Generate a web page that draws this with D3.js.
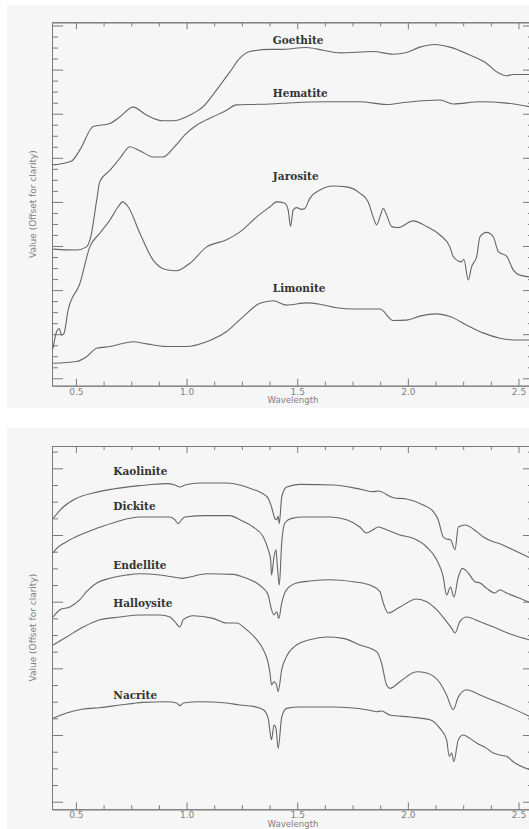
<!DOCTYPE html>
<html>
<head>
<meta charset="utf-8">
<script src="https://cdn.jsdelivr.net/npm/d3@7"></script>
<style>
  html, body { margin: 0; padding: 0; background: #ffffff; }
  svg { display: block; }
</style>
</head>
<body>
<svg id="chart" width="529" height="829"></svg>
<script>
// ---- axis settings ----
const wavelengthDomain = [0.392, 2.570];
const wavelengthTicks = [0.5, 1.0, 1.5, 2.0, 2.5];
const wavelengthMinorStep = 0.125;
const ironDomain = [-0.0168, 0.8073];
const clayDomain = [-0.0114, 0.5335];
const valueMajorStep = 0.1;
const valueMinorStep = 0.025;
const xTitle = "Wavelength";
const yTitle = "Value (Offset for clarity)";

// ---- iron oxide / sulfate spectra: [wavelength (µm), offset value] ----
const goethite = [
  [0.397,0.484],[0.481,0.493],[0.518,0.518],[0.578,0.571],[0.654,0.578],[0.699,0.593],
  [0.759,0.615],[0.819,0.597],[0.894,0.584],[0.940,0.584],[1.015,0.597],[1.075,0.616],
  [1.136,0.654],[1.196,0.695],[1.241,0.726],[1.286,0.741],[1.377,0.746],[1.422,0.746],
  [1.542,0.750],[1.617,0.744],[1.693,0.738],[1.843,0.741],[1.934,0.735],[1.994,0.739],
  [2.054,0.751],[2.122,0.757],[2.190,0.751],[2.280,0.733],[2.356,0.714],[2.401,0.695],
  [2.446,0.686],[2.476,0.689],[2.570,0.689]
];
const hematite = [
  [0.397,0.293],[0.503,0.291],[0.548,0.298],[0.568,0.323],[0.594,0.404],[0.608,0.446],
  [0.654,0.472],[0.699,0.499],[0.744,0.525],[0.789,0.516],[0.849,0.502],[0.894,0.502],
  [0.940,0.522],[1.000,0.556],[1.045,0.574],[1.120,0.593],[1.181,0.608],[1.226,0.620],
  [1.301,0.621],[1.377,0.622],[1.482,0.625],[1.633,0.627],[1.783,0.627],[1.904,0.621],
  [1.994,0.626],[2.145,0.631],[2.205,0.622],[2.326,0.627],[2.446,0.624],[2.570,0.614]
];
const jarosite = [
  [0.397,0.068],[0.413,0.106],[0.425,0.113],[0.435,0.098],[0.446,0.102],[0.465,0.155],
  [0.518,0.215],[0.563,0.298],[0.608,0.329],[0.654,0.359],[0.691,0.389],[0.711,0.400],
  [0.736,0.389],[0.789,0.329],[0.849,0.268],[0.910,0.246],[0.955,0.244],[1.015,0.261],
  [1.091,0.298],[1.181,0.314],[1.241,0.332],[1.317,0.366],[1.377,0.389],[1.407,0.400],
  [1.444,0.397],[1.459,0.382],[1.470,0.345],[1.482,0.382],[1.497,0.387],[1.519,0.383],
  [1.534,0.385],[1.557,0.408],[1.603,0.427],[1.663,0.436],[1.723,0.434],[1.783,0.420],
  [1.821,0.400],[1.843,0.366],[1.859,0.348],[1.874,0.366],[1.889,0.385],[1.904,0.370],
  [1.927,0.344],[1.956,0.342],[2.024,0.357],[2.085,0.344],[2.145,0.325],[2.190,0.298],
  [2.205,0.276],[2.228,0.266],[2.243,0.264],[2.253,0.270],[2.273,0.223],[2.288,0.253],
  [2.311,0.276],[2.326,0.321],[2.356,0.331],[2.386,0.321],[2.409,0.287],[2.446,0.277],
  [2.476,0.246],[2.506,0.234],[2.570,0.229]
];
const limonite = [
  [0.397,0.034],[0.503,0.038],[0.548,0.049],[0.594,0.068],[0.654,0.072],[0.759,0.083],
  [0.819,0.078],[0.910,0.072],[1.000,0.072],[1.091,0.083],[1.181,0.106],[1.256,0.140],
  [1.331,0.170],[1.392,0.176],[1.452,0.166],[1.542,0.171],[1.603,0.168],[1.678,0.160],
  [1.753,0.157],[1.874,0.157],[1.934,0.131],[1.994,0.132],[2.054,0.141],[2.130,0.146],
  [2.190,0.140],[2.265,0.121],[2.340,0.103],[2.416,0.091],[2.476,0.087],[2.570,0.087]
];

// ---- kaolin group spectra ----
const kaolinite = [
  [0.397,0.425],[0.443,0.442],[0.503,0.455],[0.578,0.463],[0.669,0.469],[0.789,0.474],
  [0.910,0.477],[0.947,0.475],[0.970,0.472],[0.993,0.475],[1.060,0.478],[1.181,0.478],
  [1.241,0.475],[1.286,0.470],[1.339,0.463],[1.369,0.455],[1.384,0.442],[1.399,0.425],
  [1.407,0.423],[1.414,0.428],[1.419,0.417],[1.430,0.457],[1.452,0.472],[1.512,0.476],
  [1.663,0.475],[1.768,0.470],[1.843,0.465],[1.866,0.466],[1.934,0.456],[1.994,0.454],
  [2.069,0.445],[2.115,0.435],[2.137,0.423],[2.160,0.397],[2.175,0.394],[2.193,0.393],
  [2.213,0.378],[2.228,0.412],[2.258,0.415],[2.311,0.405],[2.341,0.397],[2.386,0.390],
  [2.416,0.387],[2.461,0.380],[2.506,0.373],[2.570,0.363]
];
const dickite = [
  [0.397,0.373],[0.413,0.380],[0.458,0.390],[0.518,0.400],[0.594,0.410],[0.684,0.420],
  [0.789,0.427],[0.880,0.427],[0.925,0.427],[0.947,0.423],[0.962,0.417],[0.978,0.423],
  [0.993,0.427],[1.091,0.429],[1.196,0.429],[1.241,0.423],[1.271,0.418],[1.301,0.412],
  [1.347,0.397],[1.369,0.378],[1.380,0.363],[1.384,0.340],[1.395,0.367],[1.404,0.378],
  [1.410,0.355],[1.419,0.325],[1.430,0.388],[1.444,0.418],[1.475,0.425],[1.527,0.427],
  [1.648,0.427],[1.723,0.423],[1.783,0.412],[1.813,0.403],[1.843,0.408],[1.866,0.412],
  [1.904,0.408],[1.964,0.400],[2.024,0.395],[2.085,0.382],[2.130,0.363],[2.160,0.337],
  [2.175,0.310],[2.193,0.322],[2.208,0.307],[2.228,0.337],[2.247,0.350],[2.273,0.343],
  [2.303,0.330],[2.326,0.328],[2.356,0.320],[2.393,0.313],[2.416,0.318],[2.446,0.313],
  [2.506,0.305],[2.570,0.296]
];
const endellite = [
  [0.397,0.277],[0.428,0.288],[0.473,0.292],[0.518,0.303],[0.548,0.315],[0.594,0.328],
  [0.654,0.335],[0.729,0.340],[0.789,0.342],[0.880,0.340],[0.940,0.337],[0.978,0.335],
  [1.015,0.337],[1.091,0.342],[1.211,0.341],[1.271,0.335],[1.317,0.328],[1.347,0.320],
  [1.369,0.310],[1.377,0.298],[1.384,0.288],[1.395,0.280],[1.407,0.285],[1.417,0.275],
  [1.430,0.298],[1.452,0.318],[1.497,0.328],[1.557,0.331],[1.648,0.333],[1.753,0.330],
  [1.828,0.325],[1.874,0.315],[1.889,0.298],[1.911,0.283],[1.964,0.292],[2.039,0.304],
  [2.085,0.300],[2.130,0.288],[2.175,0.270],[2.198,0.260],[2.213,0.253],[2.235,0.270],
  [2.265,0.277],[2.326,0.270],[2.401,0.260],[2.476,0.250],[2.570,0.241]
];
const halloysite = [
  [0.397,0.235],[0.458,0.247],[0.533,0.262],[0.608,0.273],[0.699,0.277],[0.789,0.280],
  [0.880,0.280],[0.925,0.277],[0.947,0.270],[0.970,0.262],[0.985,0.273],[1.030,0.279],
  [1.120,0.275],[1.181,0.268],[1.226,0.268],[1.271,0.258],[1.317,0.243],[1.347,0.228],
  [1.369,0.208],[1.377,0.193],[1.384,0.175],[1.395,0.180],[1.407,0.175],[1.414,0.165],
  [1.430,0.198],[1.452,0.218],[1.497,0.235],[1.557,0.243],[1.633,0.247],[1.708,0.245],
  [1.783,0.235],[1.859,0.225],[1.881,0.208],[1.904,0.175],[1.919,0.170],[1.964,0.180],
  [2.039,0.195],[2.085,0.193],[2.145,0.178],[2.175,0.160],[2.205,0.138],[2.228,0.157],
  [2.265,0.168],[2.326,0.160],[2.416,0.148],[2.570,0.125]
];
const nacrite = [
  [0.397,0.125],[0.458,0.133],[0.533,0.139],[0.608,0.141],[0.699,0.145],[0.804,0.149],
  [0.910,0.150],[0.955,0.148],[0.970,0.144],[0.985,0.148],[1.060,0.150],[1.181,0.148],
  [1.241,0.145],[1.301,0.143],[1.347,0.138],[1.369,0.125],[1.380,0.098],[1.384,0.093],
  [1.395,0.115],[1.404,0.110],[1.414,0.080],[1.430,0.127],[1.452,0.140],[1.512,0.142],
  [1.663,0.142],[1.738,0.141],[1.813,0.138],[1.859,0.135],[1.881,0.136],[1.919,0.130],
  [2.009,0.127],[2.100,0.123],[2.145,0.110],[2.175,0.093],[2.187,0.068],[2.198,0.073],
  [2.208,0.060],[2.228,0.093],[2.250,0.100],[2.280,0.095],[2.311,0.088],[2.356,0.080],
  [2.386,0.073],[2.416,0.070],[2.446,0.068],[2.476,0.060],[2.570,0.046]
];

// ---- mineral names and where their labels sit (wavelength, value of the baseline) ----
const ironNames = ["Goethite", "Hematite", "Jarosite", "Limonite"];
const ironLabelAt = [[1.390,0.758],[1.390,0.638],[1.390,0.450],[1.390,0.196]];
const clayNames = ["Kaolinite", "Dickite", "Endellite", "Halloysite", "Nacrite"];
const clayLabelAt = [[0.669,0.490],[0.669,0.438],[0.669,0.349],[0.669,0.292],[0.669,0.154]];

// ---- layout ----
const W = 529, H = 829;
const plotLeft = 52, plotRight = 534;
const panels = [
  { top: 22.3, bottom: 385.7, bg: [7, 5, 408], domain: ironDomain,
    series: [goethite, hematite, jarosite, limonite], names: ironNames, labelAt: ironLabelAt },
  { top: 446, bottom: 809.3, bg: [7, 428, 829], domain: clayDomain,
    series: [kaolinite, dickite, endellite, halloysite, nacrite], names: clayNames, labelAt: clayLabelAt }
];

const svg = d3.select("#chart");
const axisColor = "#7a7a7a";
const lineColor = "#666666";

const x = d3.scaleLinear().domain(wavelengthDomain).range([plotLeft, plotRight]);
const near = (a, b) => Math.abs(a - b) < 1e-6;
const xMinor = d3.range(0.375, wavelengthDomain[1], wavelengthMinorStep)
  .filter(v => v >= wavelengthDomain[0] && !wavelengthTicks.some(t => near(t, v)));

function styleAxis(g) {
  g.select(".domain").attr("stroke", axisColor).attr("stroke-width", 1);
  g.selectAll(".tick line").attr("stroke", axisColor).attr("stroke-width", 1);
  g.selectAll(".tick text").attr("fill", "#808080")
    .style("font-family", "'DejaVu Sans', sans-serif").style("font-size", "9px");
}

panels.forEach(p => {
  const y = d3.scaleLinear().domain(p.domain).range([p.bottom, p.top]);
  const g = svg.append("g");

  g.append("rect")
    .attr("x", p.bg[0]).attr("y", p.bg[1])
    .attr("width", W - p.bg[0] + 10).attr("height", p.bg[2] - p.bg[1])
    .attr("fill", "#f6f6f6");

  const yAll = d3.range(0, p.domain[1] + 1e-9, valueMinorStep)
    .map(v => +v.toFixed(4)).filter(v => v >= p.domain[0]);
  const yMajor = yAll.filter(v => near(Math.round(v / valueMajorStep) * valueMajorStep, v));
  const yMinor = yAll.filter(v => !yMajor.some(t => near(t, v)));

  // bottom axis: ticks point up into the plot, labels below
  const bottom = g.append("g").attr("transform", `translate(0,${p.bottom})`);
  bottom.append("g").call(d3.axisBottom(x).tickValues(wavelengthTicks)
      .tickFormat(d3.format(".1f")).tickSizeInner(-7).tickSizeOuter(0).tickPadding(2.8))
    .call(styleAxis);
  bottom.append("g").call(d3.axisBottom(x).tickValues(xMinor).tickFormat("")
      .tickSizeInner(-4).tickSizeOuter(0)).call(styleAxis);

  // top axis: ticks point down
  const top = g.append("g").attr("transform", `translate(0,${p.top})`);
  top.append("g").call(d3.axisTop(x).tickValues(wavelengthTicks).tickFormat("")
      .tickSizeInner(-7).tickSizeOuter(0)).call(styleAxis);
  top.append("g").call(d3.axisTop(x).tickValues(xMinor).tickFormat("")
      .tickSizeInner(-4).tickSizeOuter(0)).call(styleAxis);

  // left and right axes, unlabelled
  const left = g.append("g").attr("transform", `translate(${plotLeft},0)`);
  left.append("g").call(d3.axisLeft(y).tickValues(yMajor).tickFormat("")
      .tickSizeInner(-11).tickSizeOuter(0)).call(styleAxis);
  left.append("g").call(d3.axisLeft(y).tickValues(yMinor).tickFormat("")
      .tickSizeInner(-6).tickSizeOuter(0)).call(styleAxis);
  const right = g.append("g").attr("transform", `translate(${plotRight},0)`);
  right.append("g").call(d3.axisRight(y).tickValues(yMajor).tickFormat("")
      .tickSizeInner(-11).tickSizeOuter(0)).call(styleAxis);
  right.append("g").call(d3.axisRight(y).tickValues(yMinor).tickFormat("")
      .tickSizeInner(-6).tickSizeOuter(0)).call(styleAxis);

  // axis titles
  g.append("text")
    .attr("x", (plotLeft + plotRight) / 2).attr("y", p.bottom + 17.6)
    .attr("text-anchor", "middle").attr("fill", "#808080")
    .style("font-family", "'DejaVu Sans', sans-serif").style("font-size", "8.6px")
    .text(xTitle);
  g.append("text")
    .attr("transform", `translate(36,${(p.top + p.bottom) / 2}) rotate(-90)`)
    .attr("text-anchor", "middle").attr("fill", "#808080")
    .style("font-family", "'DejaVu Sans', sans-serif").style("font-size", "9px")
    .text(yTitle);

  // spectra
  const line = d3.line().x(d => x(d[0])).y(d => y(d[1])).curve(d3.curveMonotoneX);
  const clipId = "clip" + p.top;
  g.append("clipPath").attr("id", clipId).append("rect")
    .attr("x", plotLeft).attr("y", p.top)
    .attr("width", plotRight - plotLeft).attr("height", p.bottom - p.top);
  g.append("g").attr("clip-path", `url(#${clipId})`)
    .selectAll("path").data(p.series).join("path")
    .attr("d", line).attr("fill", "none")
    .attr("stroke", lineColor).attr("stroke-width", 1.1)
    .attr("stroke-linejoin", "round");

  // mineral names
  g.selectAll("text.name").data(p.names).join("text")
    .attr("class", "name")
    .attr("x", (d, i) => x(p.labelAt[i][0]))
    .attr("y", (d, i) => y(p.labelAt[i][1]))
    .attr("fill", "#333333")
    .style("font-family", "'DejaVu Serif', serif")
    .style("font-weight", "bold").style("font-size", "10.5px")
    .text(d => d);
});
</script>
</body>
</html>
